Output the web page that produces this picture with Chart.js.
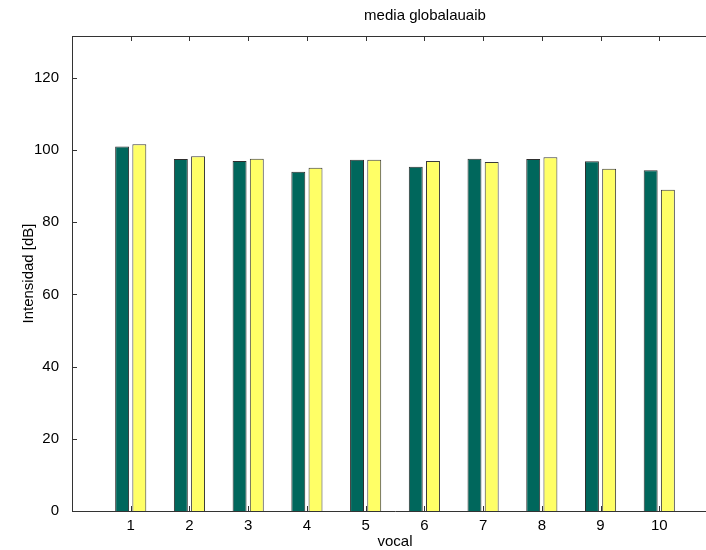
<!DOCTYPE html>
<html>
<head>
<meta charset="utf-8">
<script src="https://cdn.jsdelivr.net/npm/chart.js@4.4.1/dist/chart.umd.min.js"></script>
<style>
  html, body { margin: 0; padding: 0; background: #fff; overflow: hidden; }
  #wrap { width: 706px; height: 550px; overflow: hidden; }
  canvas { display: block; }
</style>
</head>
<body>
<div id="wrap"><canvas id="chart" width="720" height="550"></canvas></div>
<script>
// Chart data
const titulo = 'media globalauaib';
const vocales = [1, 2, 3, 4, 5, 6, 7, 8, 9, 10];
const serieVerde = [101.0, 97.5, 97.0, 94.0, 97.3, 95.4, 97.6, 97.5, 96.9, 94.4];
const serieAmarilla = [101.6, 98.3, 97.6, 95.1, 97.3, 97.0, 96.7, 98.0, 94.8, 89.0];
const yTicks = [0, 20, 40, 60, 80, 100, 120];

const fontText = { family: '"Liberation Sans", Arial, sans-serif', size: 15 };
const axisColor = '#333';

// Inward tick marks, top border and the (off-centre) title, like the MATLAB figure
const axisTicks = {
    id: 'axisTicks',
    afterDraw(chart) {
        const { ctx, chartArea: a, scales: { x, y } } = chart;
        ctx.save();
        ctx.strokeStyle = axisColor;
        ctx.lineWidth = 1;
        ctx.beginPath();
        ctx.moveTo(a.left, a.top + 0.5);
        ctx.lineTo(a.right, a.top + 0.5);
        x.ticks.forEach(t => {
            const px = Math.round(x.getPixelForValue(t.value)) + 0.5;
            ctx.moveTo(px, a.top);
            ctx.lineTo(px, a.top + 5);
            ctx.moveTo(px, a.bottom);
            ctx.lineTo(px, a.bottom - 5);
        });
        y.ticks.forEach(t => {
            const py = Math.round(y.getPixelForValue(t.value)) + 0.5;
            ctx.moveTo(a.left, py);
            ctx.lineTo(a.left + 5, py);
        });
        ctx.stroke();

        ctx.fillStyle = '#000';
        ctx.font = `${fontText.size}px ${fontText.family}`;
        ctx.textAlign = 'center';
        ctx.textBaseline = 'middle';
        ctx.fillText(titulo, 425, 16);
        ctx.restore();
    }
};

const ctx = document.getElementById('chart').getContext('2d');
new Chart(ctx, {
    type: 'bar',
    data: {
        datasets: [
            {
                label: 'verde',
                data: vocales.map((v, i) => ({ x: v, y: serieVerde[i] })),
                backgroundColor: '#00675c',
                borderColor: '#2e2e2e',
                borderWidth: 1,
                borderSkipped: 'bottom',
                barPercentage: 0.81,
                categoryPercentage: 0.586
            },
            {
                label: 'amarilla',
                data: vocales.map((v, i) => ({ x: v, y: serieAmarilla[i] })),
                backgroundColor: '#ffff66',
                borderColor: '#3a3a3a',
                borderWidth: 1,
                borderSkipped: 'bottom',
                barPercentage: 0.81,
                categoryPercentage: 0.586
            }
        ]
    },
    options: {
        responsive: false,
        animation: false,
        layout: { padding: { top: 36, right: 2, left: 0, bottom: 0 } },
        plugins: {
            legend: { display: false },
            title: { display: false },
            tooltip: { enabled: false }
        },
        scales: {
            x: {
                type: 'linear',
                min: 0,
                max: 11,
                offset: false,
                afterBuildTicks: scale => { scale.ticks = vocales.map(v => ({ value: v })); },
                afterFit: scale => { scale.height = 39; },
                grid: { display: false },
                border: { display: true, color: axisColor, width: 1 },
                ticks: { color: '#000', font: fontText, padding: -2, maxRotation: 0, autoSkip: false },
                title: { display: true, text: 'vocal', color: '#000', font: fontText, padding: { top: 0, bottom: -1 } }
            },
            y: {
                min: 0,
                max: 131.6,
                afterBuildTicks: scale => { scale.ticks = yTicks.map(v => ({ value: v })); },
                afterFit: scale => { scale.width = 72; },
                grid: { display: false },
                border: { display: true, color: axisColor, width: 1 },
                ticks: { color: '#000', font: fontText, padding: 5 },
                title: { display: true, text: 'Intensidad [dB]', color: '#000', font: fontText, padding: { top: 20, bottom: 0 } }
            }
        }
    },
    plugins: [axisTicks]
});
</script>
</body>
</html>
